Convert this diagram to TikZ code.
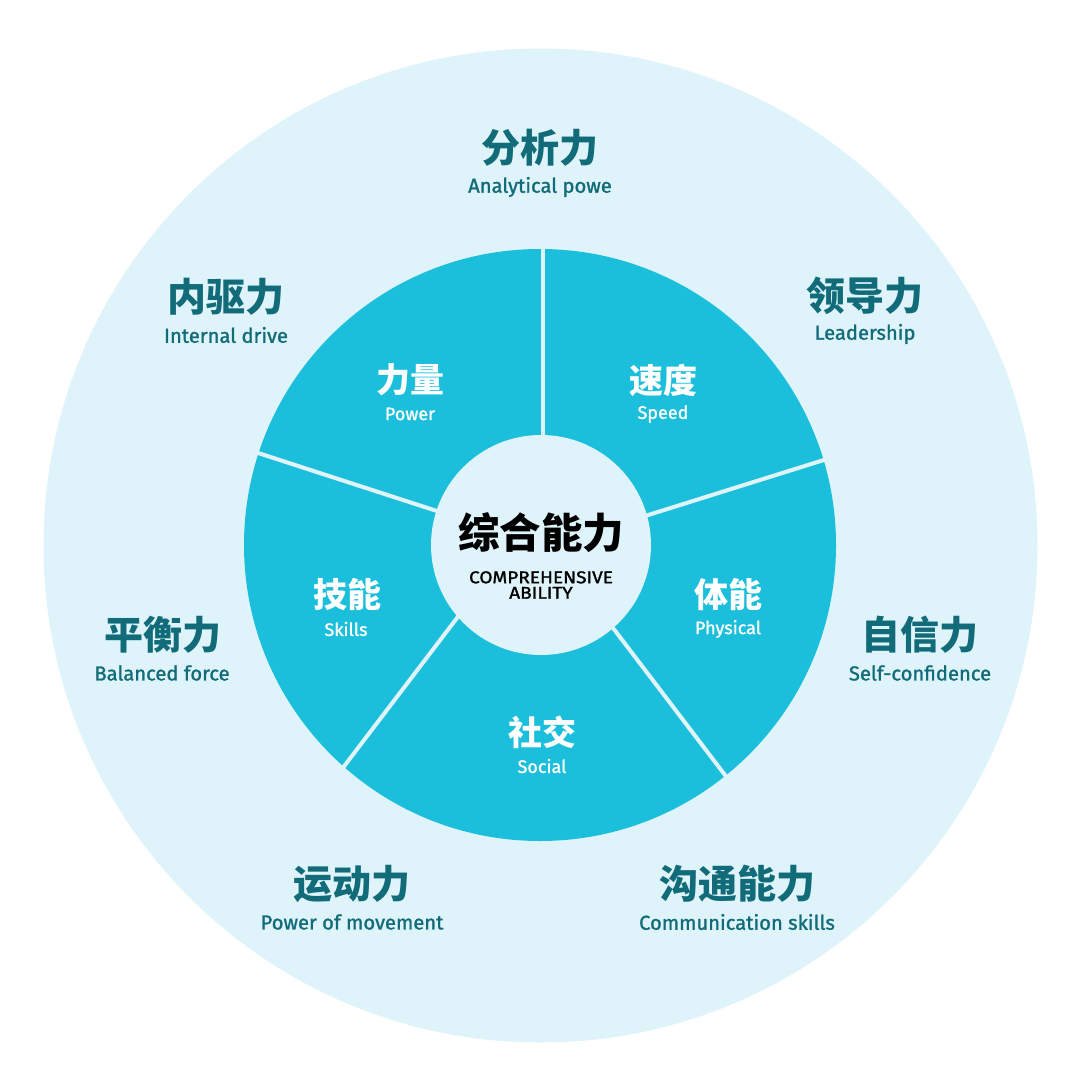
\documentclass[tikz,border=0pt]{standalone}
\usepackage{fontspec}
\newfontfamily\cjk{Noto Sans CJK SC}
\newfontfamily\en{Fira Sans}[FakeBold=1.2]
\newfontfamily\encond{Fira Sans}[FakeStretch=1.12, FakeBold=1.4]
\definecolor{bgl}{RGB}{222,244,250}
\definecolor{pie}{RGB}{27,191,219}
\definecolor{teal}{RGB}{17,107,120}
\tikzset{
  outcn/.style={text=teal, font=\cjk\bfseries\fontsize{39}{42}\selectfont, inner sep=0pt},
  outen/.style={text=teal, font=\en\fontsize{20.2}{22}\selectfont, inner sep=0pt},
  incn/.style={text=white, font=\cjk\bfseries\fontsize{34}{37}\selectfont, inner sep=0pt},
  inen/.style={text=white, font=\en\fontsize{18}{20}\selectfont, inner sep=0pt},
  divider/.style={draw=bgl, line width=4pt},
}
\begin{document}
\begin{tikzpicture}[x=1pt,y=-1pt]
\useasboundingbox (0,0) rectangle (1080,1087);
\fill[white] (0,0) rectangle (1080,1087);
% circles
\fill[bgl] (540.5,545.5) circle (497);
\fill[pie] (540,545) circle (296);
% dividers
\coordinate (t1) at (543,245); \coordinate (t2) at (543,440);
\coordinate (ul1) at (255,452); \coordinate (ul2) at (440,512);
\coordinate (ur1) at (827,459); \coordinate (ur2) at (645,516);
\coordinate (ll1) at (460,614); \coordinate (ll2) at (342,769);
\coordinate (lr1) at (610,624); \coordinate (lr2) at (728,779);
\draw[divider] (t1) -- (t2);
\draw[divider] (ul1) -- (ul2);
\draw[divider] (ur1) -- (ur2);
\draw[divider] (ll1) -- (ll2);
\draw[divider] (lr1) -- (lr2);
\fill[bgl] (541,545) circle (110);
% center
\node[inner sep=0pt, font=\cjk\bfseries\fontsize{41.5}{44}\selectfont, text=black] (c) at (541,533) {综合能力};
\node[inner sep=0pt, align=center, font=\encond\fontsize{17}{15.5}\selectfont, text=black] (c1) at (541,585) {COMPREHENSIVE\\ABILITY};
% pie labels
\node[incn] (p1) at (410,380) {力量};
\node[inen] (p1e) at (410,414) {Power};
\node[incn] (p2) at (663,380) {速度};
\node[inen] (p2e) at (663,414) {Speed};
\node[incn] (p3) at (347,595) {技能};
\node[inen] (p3e) at (346,629) {Skills};
\node[incn] (p4) at (728,595) {体能};
\node[inen] (p4e) at (728,629) {Physical};
\node[incn] (p5) at (542,732) {社交};
\node[inen] (p5e) at (542,766) {Social};
% outer labels
\node[outcn] (o1) at (540,148) {分析力};
\node[outen] (o1e) at (540,187) {Analytical powe};
\node[outcn] (o2) at (226,297) {内驱力};
\node[outen] (o2e) at (226,335) {Internal drive};
\node[outcn] (o3) at (865,296) {领导力};
\node[outen] (o3e) at (865,334) {Leadership};
\node[outcn] (o4) at (163,635) {平衡力};
\node[outen] (o4e) at (162,673) {Balanced force};
\node[outcn] (o5) at (920,635) {自信力};
\node[outen] (o5e) at (920,673) {Self-confidence};
\node[outcn] (o6) at (352,884) {运动力};
\node[outen] (o6e) at (352,922) {Power of movement};
\node[outcn] (o7) at (737,884) {沟通能力};
\node[outen] (o7e) at (737,922) {Communication skills};
\end{tikzpicture}
\end{document}
